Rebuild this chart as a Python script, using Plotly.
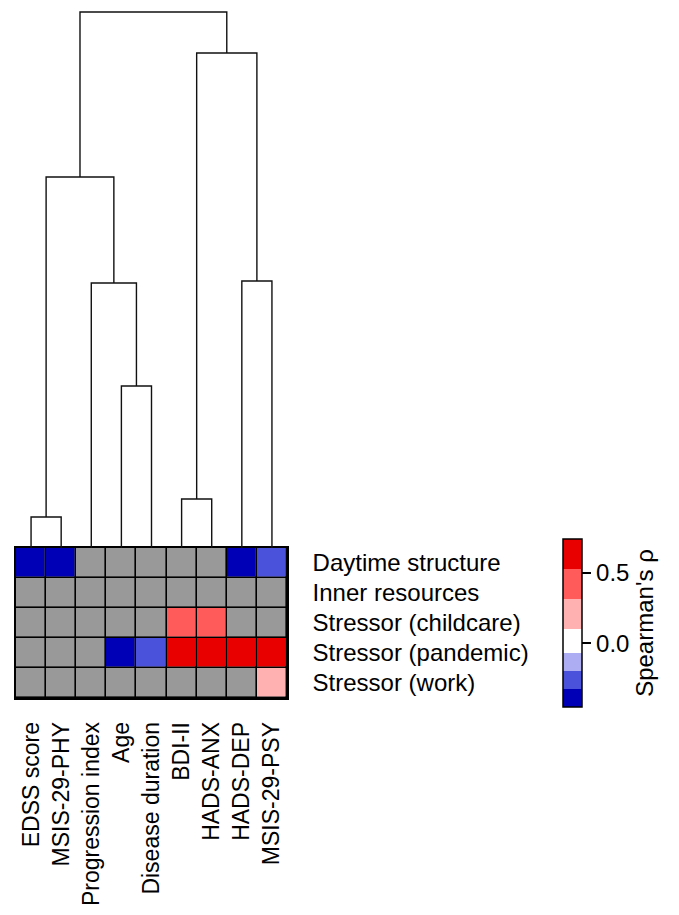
import plotly.graph_objects as go
import numpy as np

# ---------------- data ----------------
columns = ["EDSS score", "MSIS-29-PHY", "Progression index", "Age", "Disease duration",
           "BDI-II", "HADS-ANX", "HADS-DEP", "MSIS-29-PSY"]
rows = ["Daytime structure", "Inner resources", "Stressor (childcare)",
        "Stressor (pandemic)", "Stressor (work)"]
nan = None
rho_daytime   = [-0.38, -0.36, nan, nan, nan, nan, nan, -0.34, -0.27]
rho_inner     = [nan, nan, nan, nan, nan, nan, nan, nan, nan]
rho_childcare = [nan, nan, nan, nan, nan, 0.42, 0.40, nan, nan]
rho_pandemic  = [nan, nan, nan, -0.35, -0.24, 0.62, 0.60, 0.58, 0.65]
rho_work      = [nan, nan, nan, nan, nan, nan, nan, nan, 0.28]

# dendrogram linkage (leaf indices 0..8, new nodes 9..)
link_a = [0, 3, 2, 9, 5, 7, 13, 12]
link_b = [1, 4, 10, 11, 6, 8, 14, 15]
link_h = [0.31, 1.62, 2.65, 3.71, 0.49, 2.67, 4.95, 5.36]

rho_min, rho_max = -0.45, 0.74
cbar_ticks = [0.0, 0.5]
cbar_ticktext = ["0.0", "0.5"]

palette = ["#0000B6", "#4A52DC", "#ADADF3", "#FFFFFF", "#FFB0B0", "#FF5B5B", "#E80000"]
gray = "#999999"

# ---------------- layout geometry ----------------
# page body has an 8px default margin -> figure is 16px smaller than the window
OFF = 8
W, H = 679 - 2 * OFF, 915 - 2 * OFF
FONT = "Liberation Sans, Arial, sans-serif"
FS = 24
FS_COL = 23
x_dom = [(16 - OFF) / W, (287 - OFF) / W]
hm_top, hm_bot = 548 - OFF, 698 - OFF
hm_dom = [1 - hm_bot / H, 1 - hm_top / H]
dd_dom = [1 - hm_top / H, 1.0]

z = np.array([rho_daytime, rho_inner, rho_childcare, rho_pandemic, rho_work], dtype=float)
nr, nc = z.shape

# discrete colorscale: 3.5 steps each side of zero
span = rho_max - rho_min
neg_step = -rho_min / 3.5
pos_step = rho_max / 3.5
edges = [rho_min, rho_min + neg_step, rho_min + 2 * neg_step, rho_min + 3 * neg_step,
         pos_step * 0.5, pos_step * 1.5, pos_step * 2.5, rho_max]
colorscale = []
for i, c in enumerate(palette):
    a = (edges[i] - rho_min) / span
    b = (edges[i + 1] - rho_min) / span
    colorscale.append([a, c])
    colorscale.append([b, c])

fig = go.Figure()
xs = list(range(nc))
ys = list(range(nr))

# black base (grid lines)
fig.add_trace(go.Heatmap(z=np.ones((nr, nc)), x=xs, y=ys, colorscale=[[0, "black"], [1, "black"]],
                         showscale=False, hoverinfo="skip", xaxis="x", yaxis="y"))
# gray (non-significant) cells
fig.add_trace(go.Heatmap(z=np.ones((nr, nc)), x=xs, y=ys, colorscale=[[0, gray], [1, gray]],
                         showscale=False, xgap=1.6, ygap=1.6, hoverinfo="skip", xaxis="x", yaxis="y"))
# coloured cells
fig.add_trace(go.Heatmap(
    z=z, x=xs, y=ys, zmin=rho_min, zmax=rho_max, colorscale=colorscale,
    xgap=1.6, ygap=1.6, xaxis="x", yaxis="y",
    colorbar=dict(
        x=(553 - OFF) / W, xanchor="left", y=1 - (623 - OFF) / H, yanchor="middle",
        len=188, lenmode="pixels", thickness=19, thicknessmode="pixels",
        outlinecolor="black", outlinewidth=1.5,
        tickvals=cbar_ticks, ticktext=cbar_ticktext, ticks="outside", ticklen=9,
        tickwidth=1.5, tickcolor="black",
        tickfont=dict(family=FONT, size=FS, color="black"),
        title=dict(text="Spearman's ρ", side="right",
                   font=dict(family=FONT, size=FS, color="black")),
    ),
))

# dendrogram
pos = {i: float(i) for i in range(nc)}
hgt = {i: 0.0 for i in range(nc)}
for k, (a, b, h) in enumerate(zip(link_a, link_b, link_h)):
    node = nc + k
    xa, xb = pos[a], pos[b]
    fig.add_trace(go.Scatter(x=[xa, xa, xb, xb], y=[hgt[a], h, h, hgt[b]], mode="lines",
                             line=dict(color="#111111", width=1.4), hoverinfo="skip",
                             showlegend=False, xaxis="x2", yaxis="y2"))
    pos[node] = (xa + xb) / 2
    hgt[node] = h

fig.update_layout(
    width=W, height=H, margin=dict(l=0, r=0, t=0, b=0, autoexpand=False),
    paper_bgcolor="white", plot_bgcolor="white", showlegend=False,
    font=dict(family=FONT, size=FS, color="black"),
    xaxis=dict(domain=x_dom, range=[-0.5, nc - 0.5], tickvals=xs, ticktext=columns,
               tickangle=-90, ticks="", showgrid=False, zeroline=False, automargin=False,
               showline=True, linecolor="black", linewidth=1.6, mirror=True,
               ticklabelstandoff=13, tickfont=dict(family=FONT, size=FS_COL, color="black")),
    yaxis=dict(domain=hm_dom, range=[nr - 0.5, -0.5], tickvals=ys, ticktext=rows, side="right",
               ticks="", showgrid=False, zeroline=False, automargin=False,
               showline=True, linecolor="black", linewidth=1.6, mirror=True,
               ticklabelstandoff=19, tickfont=dict(family=FONT, size=FS, color="black")),
    xaxis2=dict(domain=x_dom, range=[-0.5, nc - 0.5], anchor="y2", visible=False, automargin=False),
    yaxis2=dict(domain=dd_dom, range=[0, hm_top / 100], anchor="x2", visible=False, automargin=False),
)

fig.write_html("out.html")
